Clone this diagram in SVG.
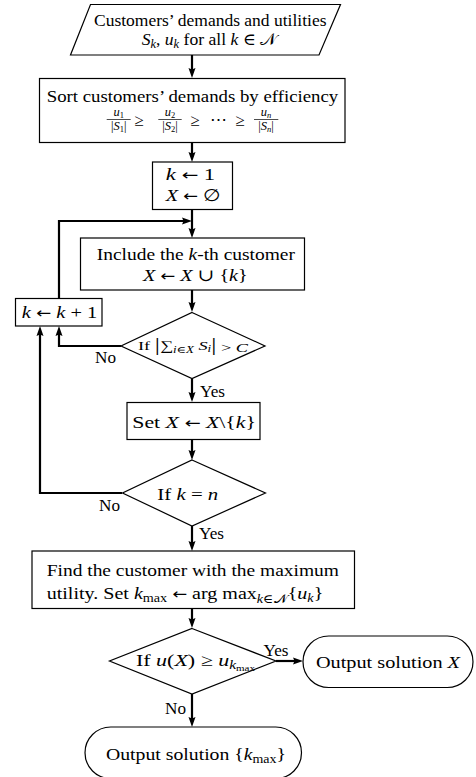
<svg xmlns="http://www.w3.org/2000/svg" width="476" height="777" viewBox="0 0 476 777" font-family="'Liberation Serif', 'DejaVu Serif', serif">
<defs>
<marker id="ah" viewBox="0 0 10 8" refX="3" refY="4" markerWidth="10" markerHeight="8" markerUnits="userSpaceOnUse" orient="auto">
<path d="M0,0.5 L10,4 L0,7.5 L1.5,4 Z" fill="#000"/>
</marker>
<style>
.n{fill:#fff;stroke:#000;stroke-width:1.2}
.c{fill:none;stroke:#000;stroke-width:2.2;marker-end:url(#ah)}
text{font-family:"Liberation Serif","DejaVu Serif",serif;font-size:17px;fill:#000}
.i{font-style:italic}
.s{font-size:12px}
.f{font-size:12.5px}
.l{font-size:16.5px}
.a{font-family:"DejaVu Sans",sans-serif;font-size:15px}
</style>
</defs>
<rect width="476" height="777" fill="#fff"/>

<g id="connectors">
<path class="c" d="M192,55 V71"/>
<path class="c" d="M192,142.5 V155"/>
<path class="c" d="M192,209.5 V231"/>
<path class="c" d="M59,298 V221 H185"/>
<path class="c" d="M192,290 V305"/>
<path class="c" d="M121,346 H59 V333"/>
<path class="c" d="M192,378.5 V395"/>
<path class="c" d="M192,439.5 V453"/>
<path class="c" d="M122,493 H40 V333"/>
<path class="c" d="M192,526 V544"/>
<path class="c" d="M192,608.5 V621"/>
<path class="c" d="M276,661 H296"/>
<path class="c" d="M192,694 V720"/>
<text class="l" x="95" y="363" textLength="21" lengthAdjust="spacingAndGlyphs">No</text>
<text class="l" x="200" y="397" textLength="25" lengthAdjust="spacingAndGlyphs">Yes</text>
<text class="l" x="99" y="511" textLength="21" lengthAdjust="spacingAndGlyphs">No</text>
<text class="l" x="199" y="539" textLength="25" lengthAdjust="spacingAndGlyphs">Yes</text>
<text class="l" x="263.5" y="655.5" textLength="25" lengthAdjust="spacingAndGlyphs">Yes</text>
<text class="l" x="165" y="714" textLength="21" lengthAdjust="spacingAndGlyphs">No</text>
</g>

<g id="input">
<polygon class="n" points="90.5,4.5 340.5,4.5 319,55 70.5,55"/>
<text x="94" y="25.5" textLength="232.5" lengthAdjust="spacingAndGlyphs">Customers’ demands and utilities</text>
<text x="141.7" y="44.5" textLength="135" lengthAdjust="spacingAndGlyphs"><tspan class="i">S</tspan><tspan class="i s" dy="3">k</tspan><tspan dy="-3">, </tspan><tspan class="i">u</tspan><tspan class="i s" dy="3">k</tspan><tspan dy="-3"> for all </tspan><tspan class="i">k</tspan> ∈ 𝒩</text>
</g>

<g id="sort">
<rect class="n" x="39.5" y="78.5" width="305.5" height="64"/>
<text x="46.7" y="101.7" textLength="291.5" lengthAdjust="spacingAndGlyphs">Sort customers’ demands by efficiency</text>
<text class="f i" x="118.7" y="116" text-anchor="middle">u<tspan style="font-size:8.5px;font-style:normal" dy="2">1</tspan></text>
<line x1="106.7" y1="119.5" x2="130.7" y2="119.5" stroke="#000" stroke-width="0.7"/>
<text class="f" x="118.7" y="130" text-anchor="middle">|<tspan class="i">S</tspan><tspan style="font-size:8.5px" dy="2">1</tspan><tspan dy="-2">|</tspan></text>
<text x="139" y="125.5" text-anchor="middle">≥</text>
<text class="f i" x="170" y="116" text-anchor="middle">u<tspan style="font-size:8.5px;font-style:normal" dy="2">2</tspan></text>
<line x1="158.3" y1="119.5" x2="181.7" y2="119.5" stroke="#000" stroke-width="0.7"/>
<text class="f" x="170" y="130" text-anchor="middle">|<tspan class="i">S</tspan><tspan style="font-size:8.5px" dy="2">2</tspan><tspan dy="-2">|</tspan></text>
<text x="195" y="125.5" text-anchor="middle">≥</text>
<text x="218" y="125" text-anchor="middle">⋯</text>
<text x="240" y="125.5" text-anchor="middle">≥</text>
<text class="f i" x="266" y="116" text-anchor="middle">u<tspan style="font-size:8.5px" dy="2">n</tspan></text>
<line x1="254" y1="119.5" x2="278.3" y2="119.5" stroke="#000" stroke-width="0.7"/>
<text class="f" x="266" y="130" text-anchor="middle">|<tspan class="i">S</tspan><tspan class="i" style="font-size:8.5px" dy="2">n</tspan><tspan dy="-2">|</tspan></text>
</g>

<g id="init">
<rect class="n" x="152.5" y="162" width="80" height="47.5"/>
<text x="165.7" y="180" textLength="49.5" lengthAdjust="spacingAndGlyphs"><tspan class="i">k</tspan>  <tspan class="a">←</tspan> 1</text>
<text x="165.7" y="201" textLength="55" lengthAdjust="spacingAndGlyphs"><tspan class="i">X</tspan> <tspan class="a">←</tspan> ∅</text>
</g>

<g id="include">
<rect class="n" x="80.5" y="238" width="224" height="52"/>
<text x="96.7" y="260" textLength="198.3" lengthAdjust="spacingAndGlyphs">Include the <tspan class="i">k</tspan>-th customer</text>
<text x="143" y="281" textLength="104.7" lengthAdjust="spacingAndGlyphs"><tspan class="i">X</tspan> <tspan class="a">←</tspan> <tspan class="i">X</tspan> ∪ {<tspan class="i">k</tspan>}</text>
</g>

<g id="increment">
<rect class="n" x="15.5" y="298.5" width="86.5" height="27.5"/>
<text x="21.7" y="318.3" textLength="75.6" lengthAdjust="spacingAndGlyphs"><tspan class="i">k</tspan> <tspan class="a">←</tspan> <tspan class="i">k</tspan> + 1</text>
</g>

<g id="check-capacity">
<polygon class="n" points="192,312.5 265,346 192,378.5 121,346"/>
<text x="138" y="350" textLength="110" lengthAdjust="spacingAndGlyphs" style="font-size:13.5px">If <tspan style="font-size:19px" dy="1">|</tspan><tspan dy="-1">∑</tspan><tspan class="i" style="font-size:9.5px" dy="3">i</tspan><tspan style="font-size:9.5px">∈</tspan><tspan class="i" style="font-size:9.5px">X</tspan><tspan class="i" dy="-3"> S</tspan><tspan class="i" style="font-size:9.5px" dy="2">i</tspan><tspan style="font-size:19px" dy="-1">|</tspan><tspan dy="1"> &gt; </tspan><tspan class="i">C</tspan></text>
</g>

<g id="remove">
<rect class="n" x="127" y="402.5" width="133" height="37"/>
<text x="132.3" y="427.7" textLength="123.7" lengthAdjust="spacingAndGlyphs">Set <tspan class="i">X</tspan> <tspan class="a">←</tspan> <tspan class="i">X</tspan>\{<tspan class="i">k</tspan>}</text>
</g>

<g id="check-end">
<polygon class="n" points="192,460 265.5,493 192,526 122.5,493"/>
<text x="157.3" y="500" textLength="61" lengthAdjust="spacingAndGlyphs">If <tspan class="i">k</tspan> = <tspan class="i">n</tspan></text>
</g>

<g id="find-max">
<rect class="n" x="32" y="551" width="322.5" height="57.5"/>
<text x="46.7" y="576" textLength="292.3" lengthAdjust="spacingAndGlyphs">Find the customer with the maximum</text>
<text x="46.7" y="599.3" textLength="276.6" lengthAdjust="spacingAndGlyphs">utility. Set <tspan class="i">k</tspan><tspan class="s" dy="3">max</tspan><tspan dy="-3"> </tspan><tspan class="a">←</tspan> arg max<tspan class="i s" dy="4">k</tspan><tspan class="s">∈𝒩</tspan><tspan dy="-4">{</tspan><tspan class="i">u</tspan><tspan class="i s" dy="3">k</tspan><tspan dy="-3">}</tspan></text>
</g>

<g id="compare">
<polygon class="n" points="192,628.5 276,661 192,694 109.5,661"/>
<text x="136" y="666" textLength="119" lengthAdjust="spacingAndGlyphs">If <tspan class="i">u</tspan>(<tspan class="i">X</tspan>) ≥ <tspan class="i">u</tspan><tspan class="i s" dy="3">k</tspan><tspan style="font-size:8.5px" dy="2">max</tspan></text>
</g>

<g id="output-x">
<rect class="n" x="303" y="636" width="170" height="51.5" rx="25.75"/>
<text x="316" y="668.3" textLength="144" lengthAdjust="spacingAndGlyphs">Output solution <tspan class="i">X</tspan></text>
</g>

<g id="output-kmax">
<rect class="n" x="85" y="727" width="216.5" height="51.5" rx="25.75"/>
<text x="106" y="760" textLength="180" lengthAdjust="spacingAndGlyphs">Output solution {<tspan class="i">k</tspan><tspan class="s" dy="3">max</tspan><tspan dy="-3">}</tspan></text>
</g>
</svg>
